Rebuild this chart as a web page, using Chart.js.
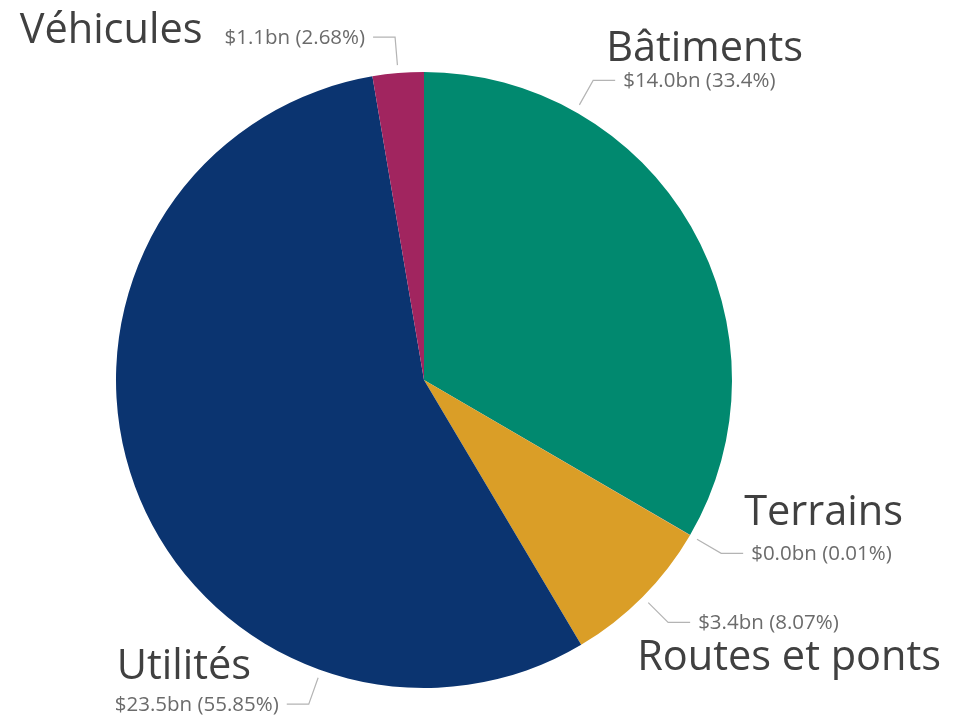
<!DOCTYPE html>
<html>
<head>
<meta charset="utf-8">
<script src="https://cdn.jsdelivr.net/npm/chart.js@4.4.1/dist/chart.umd.min.js"></script>
<style>
  html, body { margin: 0; padding: 0; background: #fff; }
  #wrap { width: 966px; height: 720px; }
</style>
</head>
<body>
<div id="wrap"><canvas id="pieChart" width="966" height="720"></canvas></div>
<script>
// Données
const categories = ['Bâtiments', 'Terrains', 'Routes et ponts', 'Utilités', 'Véhicules'];
const valuesBn = [14.0, 0.0, 3.4, 23.5, 1.1];
const shares = [33.4, 0.01, 8.07, 55.85, 2.68];
const colors = ['#01896F', '#E8604C', '#DA9E27', '#0B3470', '#A1255F'];

// Placement des étiquettes (style seulement)
// anchor : position du trait dans la part (0 = début, 1 = fin)
// big : position du grand libellé par rapport au petit texte
const labelLayout = [
    { anchor: 0.245, big: { align: 'left', dx: -17, dy: -19 } },
    { anchor: 0.5,   big: { align: 'left', dx: -7,  dy: -28 } },
    { anchor: 0.5,   big: { align: 'left', dx: -61, dy: 48 } },
    { anchor: 0.25,  big: { align: 'left', dx: 2,   dy: -25 } },
    { anchor: 0.5,   big: { align: 'right', dx: -22, dy: 6 } }
];

const BIG_FONT = '41.5px "Open Sans"';
const SMALL_FONT = '20.5px "Open Sans"';

const leaderPlugin = {
    id: 'leaderPlugin',
    afterDatasetsDraw(chart) {
        const ctx = chart.ctx;
        const meta = chart.getDatasetMeta(0);
        meta.data.forEach((arc, i) => {
            const p = arc.getProps(['x', 'y', 'startAngle', 'endAngle', 'outerRadius'], true);
            const lay = labelLayout[i];
            const a = p.startAngle + (p.endAngle - p.startAngle) * lay.anchor;
            const cos = Math.cos(a), sin = Math.sin(a);
            const r0 = p.outerRadius + 8;
            const sx = p.x + r0 * cos, sy = p.y + r0 * sin;
            const ex = sx + 28 * cos, ey = sy + 28 * sin;
            const right = cos >= 0;
            const hx = ex + (right ? 22 : -22);

            ctx.save();
            ctx.strokeStyle = '#b4b4b4';
            ctx.lineWidth = 1.2;
            ctx.beginPath();
            ctx.moveTo(sx, sy);
            ctx.lineTo(ex, ey);
            ctx.lineTo(hx, ey);
            ctx.stroke();

            // petit texte : valeur et part
            const txt = '$' + valuesBn[i].toFixed(1) + 'bn (' + shares[i] + '%)';
            ctx.font = SMALL_FONT;
            ctx.fillStyle = '#6b6b6b';
            ctx.textBaseline = 'middle';
            const w = ctx.measureText(txt).width;
            const tx = right ? hx + 8 : hx - 8 - w;
            ctx.textAlign = 'left';
            ctx.fillText(txt, tx, ey + 1);

            // grand libellé
            ctx.font = BIG_FONT;
            ctx.fillStyle = '#404040';
            ctx.textBaseline = 'alphabetic';
            ctx.textAlign = lay.big.align;
            ctx.fillText(categories[i], tx + lay.big.dx, ey + lay.big.dy);
            ctx.restore();
        });
    }
};

const chart = new Chart(document.getElementById('pieChart'), {
    type: 'pie',
    data: {
        labels: categories,
        datasets: [{
            data: shares,
            backgroundColor: colors,
            borderWidth: 0
        }]
    },
    options: {
        responsive: false,
        animation: false,
        layout: { padding: { left: 116, right: 234, top: 72, bottom: 32 } },
        plugins: {
            legend: { display: false },
            tooltip: { enabled: false }
        }
    },
    plugins: [leaderPlugin]
});
</script>
</body>
</html>
